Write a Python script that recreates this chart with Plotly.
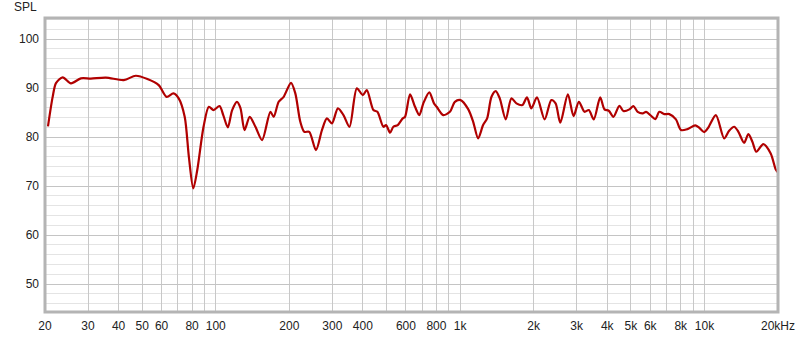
import math
import plotly.graph_objects as go

freq_hz = [20.57, 21.5, 22.18, 23.62, 25.54, 28.05, 30.82, 35.48, 42.03, 47.04, 52.5, 58.4,
           62.95, 67.07, 70.5, 74.6, 77.6, 80.9, 84.0, 89.1, 93.7, 97.9, 103.6, 107.3, 112.0,
           116.7, 122.1, 126.2, 131.1, 137.7, 145.3, 154.7, 167.3, 172.6, 180.9, 189.6, 203.2,
           211.6, 221.8, 230.3, 241.3, 257.0, 272.0, 285.0, 298.8, 316.1, 333.2, 352.6, 377.9,
           399.8, 415.1, 441.7, 458.6, 485.2, 497.7, 516.8, 533.1, 555.7, 582.4, 595.2, 623.8,
           653.8, 680.8, 707.0, 747.9, 781.6, 801.7, 852.9, 908.3, 951.9, 1004, 1079, 1131,
           1185, 1242, 1290, 1344, 1399, 1453, 1537, 1622, 1700, 1798, 1878, 1957, 2063, 2218,
           2362, 2459, 2570, 2761, 2913, 3062, 3230, 3363, 3525, 3744, 3898, 4058, 4242, 4487,
           4660, 4930, 5120, 5330, 5587, 5768, 6045, 6295, 6536, 6849, 7179, 7644, 8014, 8528,
           9168, 9520, 9977, 10360, 11140, 12040, 12620, 13230, 13770, 14530, 15130, 15710,
           16310, 17420, 18670, 19570, 19910]
spl_db = [82.2, 88.2, 91.0, 92.18, 90.96, 91.98, 91.94, 92.14, 91.63, 92.51, 91.84, 90.6,
          88.2, 88.9, 87.9, 84.14, 75.98, 69.53, 73.27, 82.1, 86.18, 85.51, 86.33, 84.49, 81.98,
          85.51, 87.2, 85.92, 81.43, 84.14, 82.1, 79.39, 85.16, 84.14, 87.2, 88.22, 91.08,
          88.92, 83.12, 81.08, 81.08, 77.35, 81.43, 83.82, 82.8, 85.86, 84.49, 82.1, 89.94,
          88.57, 89.59, 85.51, 85.16, 82.1, 82.45, 80.88, 82.1, 82.45, 83.82, 84.14, 88.71,
          86.18, 84.49, 86.88, 89.12, 86.88, 86.18, 84.49, 85.16, 87.2, 87.55, 85.7, 83.12,
          79.73, 82.45, 83.82, 88.22, 89.39, 87.9, 83.61, 87.9, 86.88, 86.53, 88.1, 85.86, 88.1, 83.61,
          87.55, 86.88, 82.92, 88.71, 84.29, 87.2, 85.16, 85.51, 83.61, 88.1, 85.65, 85.37, 84.14, 86.39,
          85.31, 85.65, 86.33, 85.16, 84.84, 85.16, 84.35, 83.67, 85.16, 84.69, 84.69, 83.61, 81.43, 81.63,
          82.39, 81.9, 81.02, 81.9, 84.49, 79.73, 81.29, 82.1, 81.08, 78.84, 80.61, 79.04,
          77.0, 78.57, 76.67, 73.41, 72.86]

x_tick_vals = [20, 30, 40, 50, 60, 70, 80, 90, 100, 200, 300, 400, 500, 600, 700, 800, 900,
               1000, 2000, 3000, 4000, 5000, 6000, 7000, 8000, 9000, 10000, 20000]
x_tick_text = ["20", "30", "40", "50", "60", "", "80", "", "100", "200", "300", "400", "", "600",
               "", "800", "", "1k", "2k", "3k", "4k", "5k", "6k", "", "8k", "", "10k", "20kHz"]
x_major_lines = [100, 1000, 10000]
y_tick_vals = [50, 60, 70, 80, 90, 100]
y_range = [44.3, 104.3]
x_range_hz = [20, 20000]

fig = go.Figure()
fig.add_trace(go.Scatter(
    x=freq_hz, y=spl_db, mode="lines",
    line=dict(color="#b00000", width=2.2, shape="spline", smoothing=0.8),
    hoverinfo="skip", showlegend=False,
))

for xv in x_major_lines:
    fig.add_shape(type="line", xref="x", yref="paper",
                  x0=math.log10(xv), x1=math.log10(xv), y0=0, y1=1,
                  line=dict(color="#8c8c8c", width=1), layer="below")

# frame
fig.add_shape(type="rect", xref="paper", yref="paper", x0=0, x1=1, y0=0, y1=1,
              line=dict(color="#b4b4b4", width=3), layer="above")

fig.update_layout(
    width=800, height=337,
    margin=dict(l=45, r=22, t=18, b=25, autoexpand=False),
    paper_bgcolor="white", plot_bgcolor="white",
    font=dict(family="Liberation Sans, Arial, sans-serif", size=12, color="#222222"),
    xaxis=dict(
        type="log", range=[math.log10(x_range_hz[0]), math.log10(x_range_hz[1])],
        tickmode="array", tickvals=x_tick_vals, ticktext=x_tick_text,
        showgrid=True, gridcolor="#c8c8c8", gridwidth=1, automargin=False,
        zeroline=False, showline=False, ticks="", ticklabelstandoff=5,
    ),
    yaxis=dict(
        range=y_range, tickmode="array", tickvals=y_tick_vals,
        showgrid=True, gridcolor="#c4c4c4", gridwidth=1, automargin=False,
        minor=dict(dtick=2, tick0=0, showgrid=True, gridcolor="#e4e4e4", gridwidth=1, ticks=""),
        zeroline=False, showline=False, ticks="", ticklabelstandoff=5,
    ),
    annotations=[dict(text="SPL", xref="paper", yref="paper", x=-0.008, y=1.0,
                      xanchor="right", yanchor="bottom", yshift=2, showarrow=False,
                      font=dict(size=12, color="#222222"))],
)

fig.write_html("out.html")
